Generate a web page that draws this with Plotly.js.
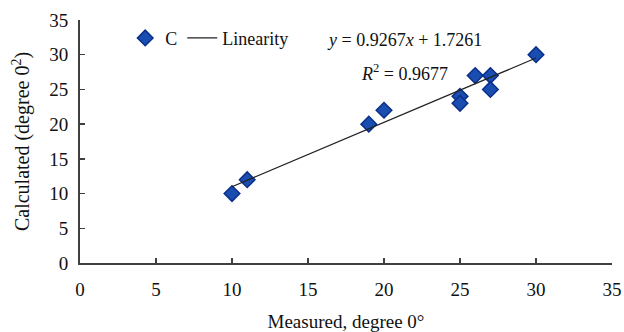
<!DOCTYPE html>
<html>
<head>
<meta charset="utf-8">
<script src="https://cdn.plot.ly/plotly-3.0.1.min.js"></script>
<style>html,body{margin:0;padding:0;background:#fff;}#chart{width:624px;height:332px;}</style>
</head>
<body>
<div id="chart"></div>
<script>
const measured = [10, 11, 19, 20, 25, 25, 26, 27, 27, 30];
const calculated = [10, 12, 20, 22, 24, 23, 27, 27, 25, 30];
const slope = 0.9267;
const intercept = 1.7261;
const r2 = 0.9677;
const xTicks = [0, 5, 10, 15, 20, 25, 30, 35];
const yTicks = [0, 5, 10, 15, 20, 25, 30, 35];

const xMin = Math.min(...measured), xMax = Math.max(...measured);
const fitX = [xMin, xMax];
const fitY = fitX.map(v => slope * v + intercept);

const font = 'Liberation Serif, Times New Roman, serif';

const data = [
  {
    x: measured, y: calculated, type: 'scatter', mode: 'markers', name: 'C',
    marker: {symbol: 'diamond', size: 12, color: '#1a4db0', line: {color: '#0a2f8a', width: 1.5}}
  },
  {
    x: fitX, y: fitY, type: 'scatter', mode: 'lines', name: 'Linearity',
    line: {color: '#222', width: 1.2}
  }
];

const layout = {
  width: 624, height: 332,
  margin: {l: 80, r: 12, t: 20, b: 69},
  paper_bgcolor: '#fff', plot_bgcolor: '#fff',
  font: {family: font, size: 18, color: '#111'},
  showlegend: true,
  legend: {
    orientation: 'h', x: 0.085, y: 0.925, xanchor: 'left', yanchor: 'middle',
    font: {family: font, size: 18, color: '#111'},
    itemwidth: 30, bgcolor: 'rgba(0,0,0,0)', tracegroupgap: 0
  },
  xaxis: {
    range: [0, 35], tickvals: xTicks, ticktext: xTicks.map(String),
    ticks: 'inside', ticklen: 5, tickwidth: 1.5, tickcolor: '#404040',
    showline: true, linecolor: '#404040', linewidth: 2,
    showgrid: false, zeroline: false, automargin: false,
    ticklabelstandoff: 8,
    tickfont: {family: font, size: 19, color: '#111'},
    title: {text: 'Measured, degree 0°', font: {family: font, size: 19, color: '#111'}, standoff: 24}
  },
  yaxis: {
    range: [0, 35], tickvals: yTicks, ticktext: yTicks.map(String),
    ticks: 'inside', ticklen: 5, tickwidth: 1.5, tickcolor: '#404040',
    showline: true, linecolor: '#404040', linewidth: 2,
    showgrid: false, zeroline: false, automargin: false,
    ticklabelstandoff: 6,
    tickfont: {family: font, size: 19, color: '#111'},
    title: {text: 'Calculated (degree 0<sup>2</sup>)', font: {family: font, size: 20, color: '#111'}, standoff: 14}
  },
  annotations: [
    {
      xref: 'paper', yref: 'paper', x: 0.61, y: 0.918, xanchor: 'center', yanchor: 'middle',
      text: '<i>y</i> = ' + slope + '<i>x</i> + ' + intercept, showarrow: false,
      font: {family: font, size: 18, color: '#111'}
    },
    {
      xref: 'paper', yref: 'paper', x: 0.61, y: 0.786, xanchor: 'center', yanchor: 'middle',
      text: '<i>R</i><sup>2</sup> = ' + r2, showarrow: false,
      font: {family: font, size: 18, color: '#111'}
    }
  ]
};

Plotly.newPlot('chart', data, layout, {displayModeBar: false, staticPlot: true});
</script>
</body>
</html>
